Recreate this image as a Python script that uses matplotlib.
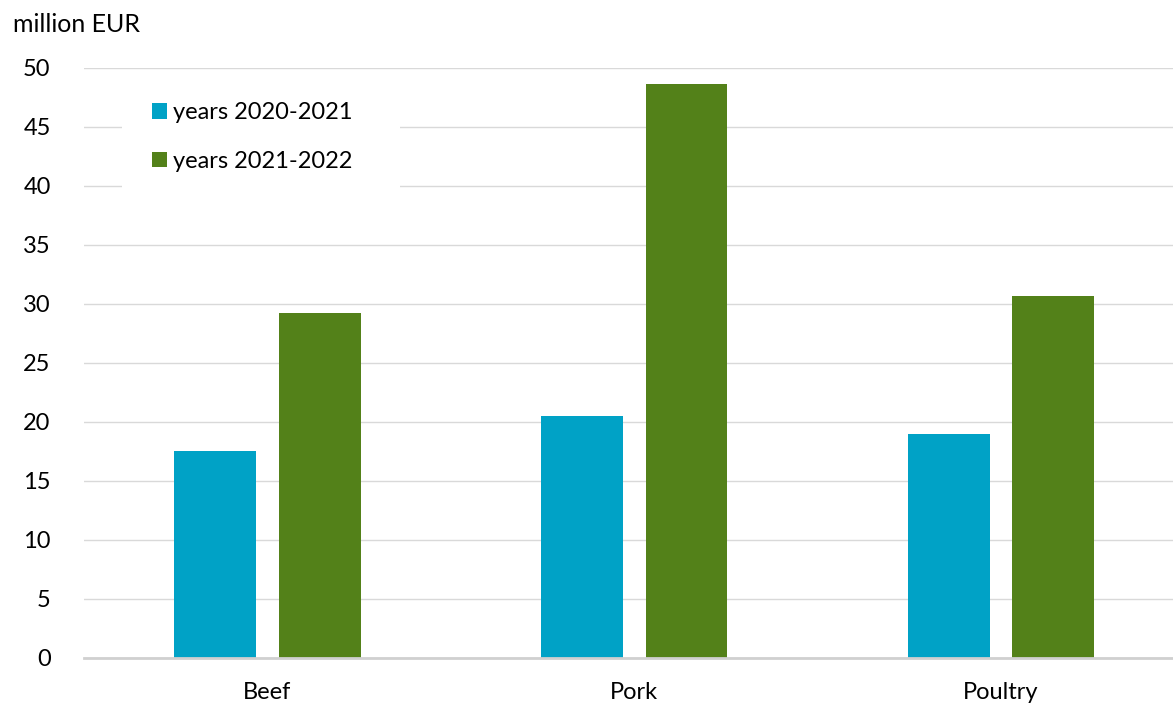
import matplotlib
matplotlib.use("Agg")
import matplotlib.pyplot as plt
from matplotlib.patches import Patch, Rectangle
import numpy as np

categories = ["Beef", "Pork", "Poultry"]
series_names = ["years 2020-2021", "years 2021-2022"]
values_2020_2021 = [17.55, 20.47, 18.95]
values_2021_2022 = [29.25, 48.65, 30.66]
y_ticks = [0, 5, 10, 15, 20, 25, 30, 35, 40, 45, 50]

colors = ["#00A2C6", "#538119"]
W, H = 1173, 703
plt.rcParams["font.family"] = ["Lato", "DejaVu Sans"]
fs = 17

fig = plt.figure(figsize=(W / 100, H / 100), dpi=100)
ax = fig.add_axes([84 / W, (H - 658) / H, (1184.5 - 84) / W, (658 - 67.7) / H])

x = np.arange(len(categories))
bw = 0.2234
off = 0.1425
ax.bar(x - off, values_2020_2021, bw, color=colors[0], zorder=2)
ax.bar(x + off, values_2021_2022, bw, color=colors[1], zorder=2)

ax.set_xlim(-0.5, 2.5)
ax.set_ylim(0, 50)
ax.set_yticks(y_ticks)
ax.set_xticks(x)
ax.set_xticklabels(categories, fontsize=fs, color="#000000")
ax.tick_params(axis="y", labelsize=fs, length=0, pad=24, labelcolor="#000000")
ax.tick_params(axis="x", length=0, pad=17)
ax.set_axisbelow(True)
ax.yaxis.grid(True, color="#d9d9d9", linewidth=1.0)
for s in ["top", "right", "left"]:
    ax.spines[s].set_visible(False)
ax.spines["bottom"].set_color("#d0d0d0")
ax.spines["bottom"].set_linewidth(2.0)
ax.spines["bottom"].set_zorder(3)

# white box behind the legend hides the gridlines there
ax.add_patch(Rectangle((122 / W, (H - 190) / H), (400 - 122) / W, (190 - 80) / H,
                       transform=fig.transFigure, facecolor="white",
                       edgecolor="none", zorder=1, clip_on=False))

handles = [Patch(facecolor=c, edgecolor="none") for c in colors]
fig.legend(handles, series_names, loc="upper left",
           bbox_to_anchor=(152 / W, (H - 102) / H), frameon=False,
           fontsize=fs, handlelength=0.64, handleheight=0.64,
           handletextpad=0.25, labelspacing=1.18, borderpad=0, borderaxespad=0)

fig.text(13 / W, (H - 25) / H, "million EUR", fontsize=fs + 1, va="center", ha="left")

fig.savefig("out.png", dpi=100)
